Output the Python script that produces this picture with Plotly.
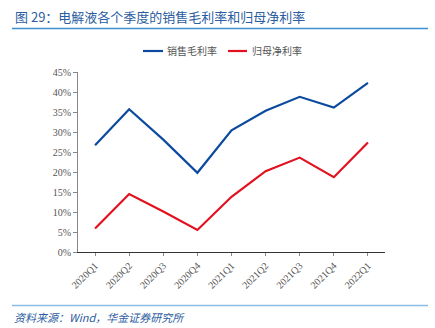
import plotly.graph_objects as go

quarters = ["2020Q1", "2020Q2", "2020Q3", "2020Q4", "2021Q1", "2021Q2", "2021Q3", "2021Q4", "2022Q1"]
gross_margin = [26.7, 35.7, 28.1, 19.8, 30.4, 35.3, 38.8, 36.1, 42.3]
net_margin = [5.9, 14.5, 10.1, 5.5, 13.8, 20.2, 23.6, 18.7, 27.4]
y_ticks = [0, 5, 10, 15, 20, 25, 30, 35, 40, 45]
series_names = ["销售毛利率", "归母净利率"]
series_colors = ["#0b4a9e", "#e3101e"]

W, H = 435, 328
L, R, T, B = 78, 50, 72, 76

fig = go.Figure()
for name, vals, col in zip(series_names, [gross_margin, net_margin], series_colors):
    fig.add_trace(go.Scatter(x=list(range(len(quarters))), y=vals, mode="lines", name=name,
                             line=dict(color=col, width=2.2), showlegend=False))

cjk = "Noto Sans CJK SC"

def px_x(px):
    return (px - L) / (W - L - R)

def px_y(py):
    return (H - B - py) / (H - T - B)

shapes = [
    dict(type="line", xref="paper", yref="paper", x0=px_x(12), x1=px_x(428), y0=px_y(28.5), y1=px_y(28.5),
         line=dict(color="#3d8fd1", width=1.3)),
    dict(type="line", xref="paper", yref="paper", x0=px_x(12), x1=px_x(428), y0=px_y(305.5), y1=px_y(305.5),
         line=dict(color="#8cbbe3", width=1.3)),
]
annotations = [
    dict(text="图 29：电解液各个季度的销售毛利率和归母净利率", xref="paper", yref="paper",
         x=px_x(13), y=px_y(17), xanchor="left", yanchor="middle", showarrow=False,
         font=dict(family=cjk, size=13, color="#2c5da0")),
    dict(text="<i>资料来源：Wind，华金证券研究所</i>", xref="paper", yref="paper",
         x=px_x(12), y=px_y(317), xanchor="left", yanchor="middle", showarrow=False,
         font=dict(family=cjk, size=11, color="#2c5da0")),
]
# manual legend
leg = [(143, 163, 165), (228, 247, 250)]
for (x0, x1, tx), name, col in zip(leg, series_names, series_colors):
    shapes.append(dict(type="line", xref="paper", yref="paper", x0=px_x(x0), x1=px_x(x1),
                       y0=px_y(51), y1=px_y(51), line=dict(color=col, width=2.2)))
    annotations.append(dict(text=name, xref="paper", yref="paper", x=px_x(tx), y=px_y(51),
                            xanchor="left", yanchor="middle", showarrow=False,
                            font=dict(family=cjk, size=10, color="#555555")))

fig.update_layout(
    width=W, height=H, margin=dict(l=L, r=R, t=T, b=B),
    paper_bgcolor="white", plot_bgcolor="white",
    shapes=shapes, annotations=annotations,
    xaxis=dict(range=[-0.5, len(quarters) - 0.5], tickmode="array",
               tickvals=list(range(len(quarters))), ticktext=quarters, tickangle=-45,
               showgrid=False, zeroline=False, showline=True, linecolor="#333333", linewidth=1,
               ticks="outside", ticklen=3, tickcolor="#888888",
               tickfont=dict(family="Liberation Serif", size=10, color="#555555")),
    yaxis=dict(range=[0, 45], tickmode="array", tickvals=y_ticks,
               ticktext=[f"{v}%" for v in y_ticks],
               showgrid=False, zeroline=False, showline=True, linecolor="#888888", linewidth=1,
               ticks="outside", ticklen=4, tickcolor="#888888",
               tickfont=dict(family="Liberation Serif", size=10, color="#555555")),
)

fig.write_html("out.html")
